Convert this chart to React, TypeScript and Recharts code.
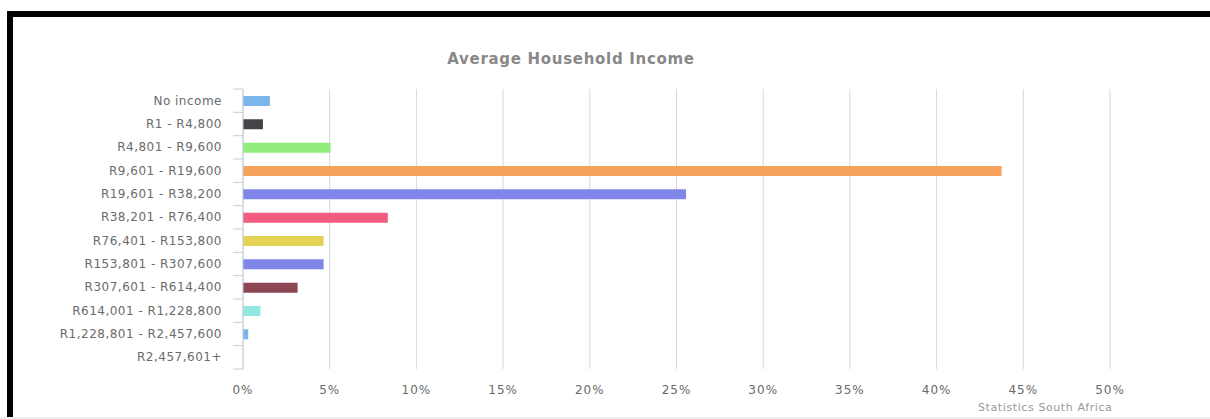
import React from "react";
import { BarChart, Bar, XAxis, YAxis, CartesianGrid, Cell } from "recharts";

const categories = [
  "No income",
  "R1 - R4,800",
  "R4,801 - R9,600",
  "R9,601 - R19,600",
  "R19,601 - R38,200",
  "R38,201 - R76,400",
  "R76,401 - R153,800",
  "R153,801 - R307,600",
  "R307,601 - R614,400",
  "R614,001 - R1,228,800",
  "R1,228,801 - R2,457,600",
  "R2,457,601+",
];
const shares = [1.55, 1.15, 5.05, 43.75, 25.55, 8.35, 4.65, 4.65, 3.15, 1.0, 0.3, 0];
const colors = [
  "#7cb5ec", "#434348", "#90ed7d", "#f7a35c", "#8085e9", "#f15c80",
  "#e4d354", "#8085e8", "#8d4653", "#91e8e1", "#7cb5ec", "#434348",
];
const xTicks = [0, 5, 10, 15, 20, 25, 30, 35, 40, 45, 50];

const data = categories.map((c, i) => ({ category: c, share: shares[i] }));

const W = 1210;
const H = 419;
const M_TOP = 89;
const M_RIGHT = 100;
const Y_W = 243;
const X_H = 30;
const M_BOTTOM = H - 369 - X_H;
const PLOT_H = H - M_TOP - M_BOTTOM - X_H;
const BAND = PLOT_H / categories.length;
const FONT = "'DejaVu Sans', Verdana, sans-serif";

const YTick = (props: any) => {
  const { x, y, payload, index } = props;
  const half = BAND / 2;
  return (
    <g>
      <line x1={Y_W - 10} x2={Y_W} y1={y - half} y2={y - half} stroke="#C0D0E0" strokeWidth={1} />
      {index === categories.length - 1 && (
        <line x1={Y_W - 10} x2={Y_W} y1={y + half} y2={y + half} stroke="#C0D0E0" strokeWidth={1} />
      )}
      <text
        x={x}
        y={y}
        dy={4}
        textAnchor="end"
        fill="#6a6a6a"
        fontSize={12}
        letterSpacing={0.5}
        fontFamily={FONT}
      >
        {payload.value}
      </text>
    </g>
  );
};

export default function App() {
  return (
    <div style={{ position: "absolute", left: 0, top: 0, width: W, height: H, background: "#fff", overflow: "hidden", fontFamily: FONT }}>
      <div style={{ position: "absolute", left: 7, top: 11, width: W - 7, height: H - 11, borderTop: "6px solid #000", borderLeft: "6px solid #000", boxSizing: "border-box" }} />
      <div style={{ position: "absolute", left: 0, top: 417, width: W, height: 2, background: "#eeeeee" }} />
      <div style={{ position: "absolute", left: 371, width: 400, top: 49, textAlign: "center", fontSize: 15, fontWeight: "bold", color: "#888888", lineHeight: "20px", letterSpacing: 0.7 }}>
        Average Household Income
      </div>
      <div style={{ position: "absolute", left: 0, top: 0 }}>
        <BarChart
          width={W}
          height={H}
          data={data}
          layout="vertical"
          margin={{ top: M_TOP, right: M_RIGHT, bottom: M_BOTTOM, left: 0 }}
          barCategoryGap={0}
        >
          <CartesianGrid horizontal={false} vertical={true} stroke="#D8D8D8" />
          <XAxis
            type="number"
            domain={[0, 50]}
            ticks={xTicks}
            tickFormatter={(v: number) => `${v}%`}
            axisLine={false}
            tickLine={false}
            tickSize={6}
            tickMargin={10}
            height={X_H}
            tick={{ fill: "#6a6a6a", fontSize: 12, fontFamily: FONT, letterSpacing: 1 }}
            interval={0}
          />
          <YAxis
            type="category"
            dataKey="category"
            width={Y_W}
            axisLine={{ stroke: "#C0D0E0" }}
            tickLine={false}
            tickSize={10}
            tickMargin={11}
            tick={<YTick />}
            interval={0}
          />
          <Bar dataKey="share" barSize={10} isAnimationActive={false}>
            {data.map((d, i) => (
              <Cell key={d.category} fill={colors[i]} />
            ))}
          </Bar>
        </BarChart>
      </div>
      <div style={{ position: "absolute", left: 978, top: 401, fontSize: 11, color: "#999999", whiteSpace: "nowrap", lineHeight: "14px", letterSpacing: 0.6 }}>
        Statistics South Africa
      </div>
    </div>
  );
}
